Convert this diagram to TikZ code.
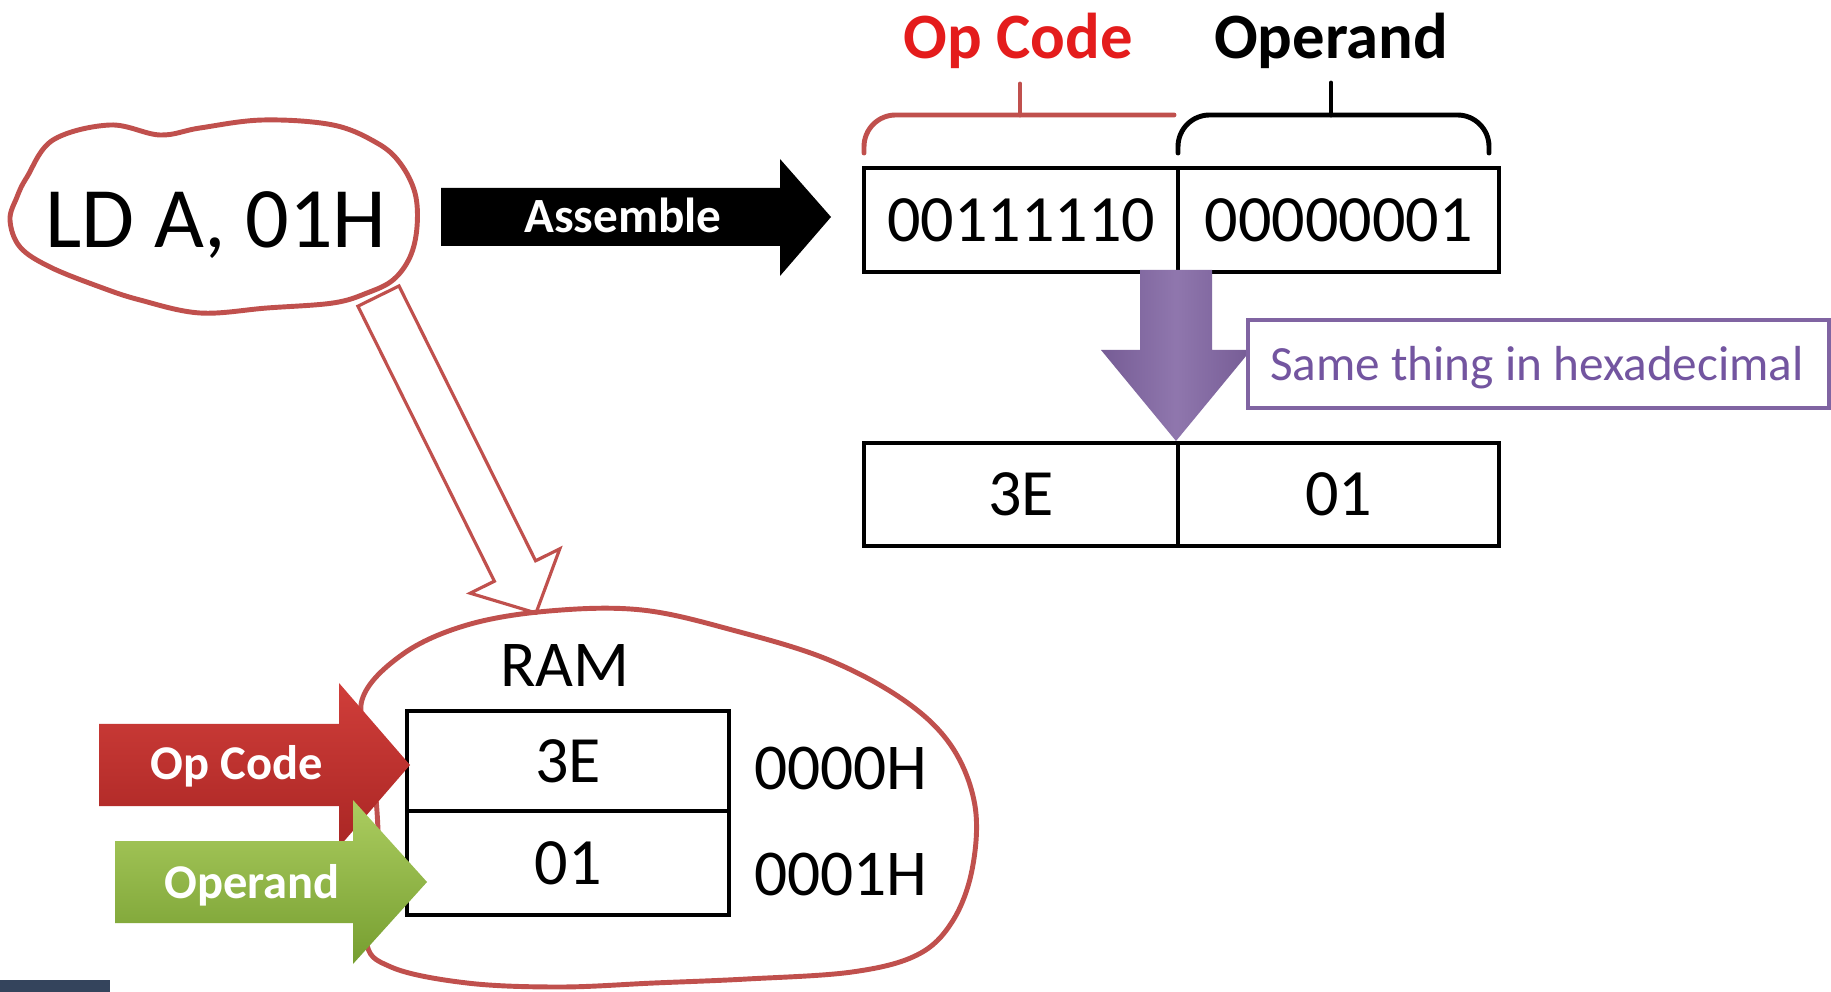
\documentclass[tikz,border=0pt]{standalone}
\usepackage{fontspec}
\setmainfont{Carlito}
\definecolor{blobred}{RGB}{192,80,77}
\definecolor{titlered}{RGB}{228,28,28}
\definecolor{purp}{RGB}{128,100,162}
\definecolor{purptext}{RGB}{115,85,160}
\definecolor{slate}{RGB}{52,68,92}
\definecolor{arred}{RGB}{208,62,58}
\definecolor{arreddk}{RGB}{170,38,36}
\definecolor{argreen}{RGB}{172,205,96}
\definecolor{argreendk}{RGB}{118,158,48}
\begin{document}
\begin{tikzpicture}[x=0.01cm,y=-0.01cm,
  blob/.style={draw=blobred, line width=1.4pt, line join=round},
  cell/.style={draw=black, line width=1.15pt, inner sep=0pt, anchor=north west,
    font=\fontsize{18.8}{22}\selectfont},
  bigtxt/.style={font=\fontsize{24.5}{29}\selectfont, anchor=base, inner sep=0pt},
  celltxt/.style={font=\fontsize{18.6}{22}\selectfont, anchor=base, inner sep=0pt},
  titletxt/.style={font=\bfseries\fontsize{18.4}{22}\selectfont, anchor=base, inner sep=0pt},
  arrowtxt/.style={font=\bfseries\fontsize{13.8}{16}\selectfont, text=white, anchor=base, inner sep=0pt},
  bracket/.style={line width=1.4pt, rounded corners=9pt, line cap=round}
]
\useasboundingbox (0,0) rectangle (1831,992);
\fill[white] (0,0) rectangle (1831,992);

% hollow arrow from instruction to RAM
\draw[draw=blobred, fill=white, line width=0.9pt, line join=miter]
  (399,286) -- (535.6,560.8) -- (559.8,548.8) -- (536,613) -- (470.2,593.2)
  -- (494.4,581.2) -- (357.9,306.2) -- cycle;

% instruction blob
\draw[blob, fill=white] plot[smooth cycle, tension=0.6] coordinates {
  (27,177) (53,140) (110,125) (160,135) (200,128) (263,120) (333,125)
  (377,143) (400,163) (415,193) (417,227) (410,257) (393,280) (367,293)
  (333,303) (267,308) (200,313) (140,300) (100,287) (50,267) (20,247)
  (10,220) (17,197)};
\node[bigtxt] (ld) at (216,248) {LD A, 01H};

% Assemble arrow
\fill[black] (441,188) -- (780,188) -- (780,159) -- (831,217) -- (780,276)
  -- (780,246) -- (441,246) -- cycle;
\node[font=\bfseries\fontsize{14}{16}\selectfont, text=white, anchor=base, inner sep=0pt]
  (asm) at (623,233) {Assemble};

% titles and brackets
\node[titletxt, text=titlered] (opc) at (1018,59) {Op Code};
\node[titletxt] (opr) at (1331,59) {Operand};
\draw[bracket, draw=blobred] (864,153) -- (864,115) -- (1174,115);
\draw[draw=blobred, line width=1.4pt, line cap=round] (1020,115) -- (1020,84);
\draw[bracket] (1178,153) -- (1178,115) -- (1489,115) -- (1489,153);
\draw[line width=1.4pt, line cap=round] (1331,115) -- (1331,83);

% binary cells
\node[cell, minimum width=3.14cm, minimum height=1.04cm] (b1) at (862,166) {00111110};
\node[cell, minimum width=3.21cm, minimum height=1.04cm] (b2) at (1176,166) {00000001};

% purple arrow
\shade[left color=purp!92!black, right color=purp!92!black, middle color=purp!88!white]
  (1140,270) -- (1212,270) -- (1212,350) -- (1251,350) -- (1176,441)
  -- (1101,350) -- (1140,350) -- cycle;
\node[draw=purp, line width=1pt, fill=white, minimum width=5.81cm, minimum height=0.88cm,
  anchor=north west, inner sep=0pt] (hexbox) at (1246,318) {};
\node[font=\fontsize{14}{17}\selectfont, text=purptext, anchor=base, inner sep=0pt]
  (hexlbl) at (1537,381) {Same thing in hexadecimal};

% hex cells
\node[cell, minimum width=3.14cm, minimum height=1.03cm] (h1) at (862,441) {3E};
\node[cell, minimum width=3.21cm, minimum height=1.03cm] (h2) at (1176,441) {01};

% RAM blob
\draw[blob] plot[smooth cycle, tension=0.6] coordinates {
  (362,700) (403,654) (467,625) (549,611) (642,610) (736,631) (829,660)
  (905,701) (952,747) (975,806) (972,870) (952,922) (917,955) (852,972)
  (747,979) (654,983) (560,987) (467,983) (391,967) (366,938) (378,850)
  (372,760)};
\node[celltxt] (ram) at (565,687) {RAM};
\node[cell, minimum width=3.22cm, minimum height=1.00cm] (r1) at (405,709) {3E};
\node[cell, minimum width=3.22cm, minimum height=1.04cm] (r2) at (405,809) {01};
\node[celltxt] (a0) at (841,790) {0000H};
\node[celltxt] (a1) at (841,895) {0001H};

% Op Code arrow
\shade[top color=arred, bottom color=arreddk]
  (99,724) -- (339,724) -- (339,683) -- (410,765) -- (339,847) -- (339,806)
  -- (99,806) -- cycle;
\node[arrowtxt] (opcarrow) at (237,780) {Op Code};

% Operand arrow
\shade[top color=argreen, bottom color=argreendk]
  (115,841) -- (353,841) -- (353,800) -- (427,882) -- (353,964) -- (353,923)
  -- (115,923) -- cycle;
\node[arrowtxt] (oprarrow) at (252,898) {Operand};

% corner bar
\fill[slate] (0,980) rectangle (110,992);
\end{tikzpicture}
\end{document}
